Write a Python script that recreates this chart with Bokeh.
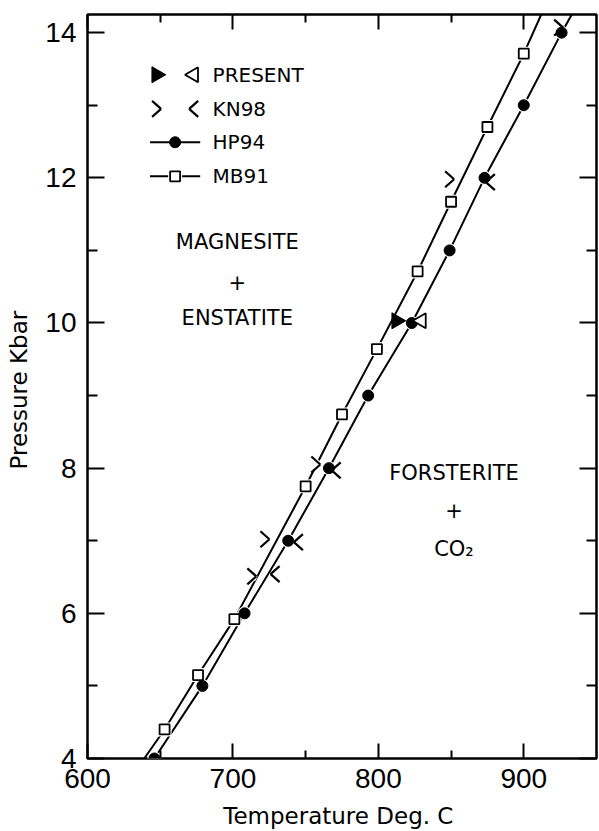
import math
from bokeh.plotting import figure
from bokeh.models import FixedTicker, LinearAxis, Range1d
from bokeh.core.properties import value
from bokeh.embed import file_html
from bokeh.resources import INLINE

# ---------------- data ----------------
x_ticks = [600, 700, 800, 900]
x_minor = [650, 750, 850]
y_ticks = [4, 6, 8, 10, 12, 14]
y_minor = [5, 7, 9, 11, 13]

# HP94 (filled circles) and its curve
hp94_T = [646, 679, 708, 738, 766, 793, 823, 849, 873, 900, 926]
hp94_P = [4, 5, 6, 7, 8, 9, 10, 11, 12, 13, 14]
hp94_line_T = [646, 679, 708, 738, 766, 793, 823, 849, 873, 900, 926, 933]
hp94_line_P = [4, 5, 6, 7, 8, 9, 10, 11, 12, 13, 14, 14.25]

# MB91 (open squares) and its curve
mb91_T = [653, 676, 701, 750, 775, 799, 827, 850, 875, 900]
mb91_P = [4.40, 5.15, 5.92, 7.75, 8.74, 9.64, 10.71, 11.67, 12.70, 13.71]
mb91_line_T = [639, 653, 676, 701, 750, 775, 799, 827, 850, 875, 900, 912]
mb91_line_P = [4.0, 4.40, 5.15, 5.92, 7.75, 8.74, 9.64, 10.71, 11.67, 12.70, 13.71, 14.25]

# KN98 brackets
kn98_gt_T = [713, 722, 757, 849, 924]
kn98_gt_P = [6.51, 7.02, 8.05, 11.98, 14.07]
kn98_lt_T = [729, 745, 771, 877]
kn98_lt_P = [6.54, 6.98, 7.97, 11.94]

# PRESENT study
present_fill_T = [812.5]
present_fill_P = [10.03]
present_open_T = [829.6]
present_open_P = [10.03]

legend_names = ["PRESENT", "KN98", "HP94", "MB91"]

# ---------------- layout / style ----------------
W, H = 599, 831
B_LEFT, B_RIGHT, B_TOP, B_BOTTOM = 87, 3, 14, 73
X0, X1 = 600, 950
Y0, Y1 = 4, 14.25
FW, FH = W - B_LEFT - B_RIGHT, H - B_TOP - B_BOTTOM
PX_X = FW / (X1 - X0)   # px per deg C
PX_Y = FH / (Y1 - Y0)   # px per kbar

FONT = "DejaVu Sans"
TICK_FONT = "Liberation Sans"

p = figure(width=W, height=H, x_range=Range1d(X0, X1), y_range=Range1d(Y0, Y1),
           output_backend="svg", toolbar_location=None,
           min_border_left=B_LEFT, min_border_right=B_RIGHT,
           min_border_top=B_TOP, min_border_bottom=B_BOTTOM)
p.grid.visible = False
p.outline_line_color = "black"
p.outline_line_width = 2.5
p.background_fill_color = "white"
p.border_fill_color = "white"


def style_axis(ax, major_in, minor_in):
    ax.axis_line_color = None
    ax.major_tick_in = major_in
    ax.major_tick_out = 0
    ax.minor_tick_in = minor_in
    ax.minor_tick_out = 0
    ax.major_tick_line_width = 2
    ax.minor_tick_line_width = 2
    ax.major_tick_line_color = "black"
    ax.minor_tick_line_color = "black"
    ax.major_label_text_font = TICK_FONT
    ax.major_label_text_font_size = "28px"
    ax.major_label_text_color = "black"
    ax.axis_label_text_font = FONT
    ax.axis_label_text_font_size = "23px"
    ax.axis_label_text_font_style = "normal"
    ax.axis_label_text_color = "black"


xa = p.xaxis[0]
xa.ticker = FixedTicker(ticks=x_ticks, minor_ticks=x_minor)
style_axis(xa, 15, 8)
xa.major_label_standoff = 10
xa.axis_label = "Temperature  Deg. C"
xa.axis_label_standoff = 12

ya = p.yaxis[0]
ya.ticker = FixedTicker(ticks=y_ticks, minor_ticks=y_minor)
style_axis(ya, 17, 10)
ya.major_label_standoff = 11
ya.axis_label = "Pressure  Kbar"
ya.axis_label_standoff = 10

top = LinearAxis(ticker=FixedTicker(ticks=x_ticks, minor_ticks=x_minor),
                 major_label_overrides={t: "" for t in x_ticks})
style_axis(top, 15, 8)
top.major_label_standoff = 0
top.major_label_text_font_size = "1px"
p.add_layout(top, "above")

right = LinearAxis(ticker=FixedTicker(ticks=y_ticks, minor_ticks=y_minor),
                   major_label_overrides={t: "" for t in y_ticks})
style_axis(right, 17, 10)
right.major_label_standoff = 0
right.major_label_text_font_size = "1px"
p.add_layout(right, "right")

LW = 2

# ---------------- curves ----------------
p.line(mb91_line_T, mb91_line_P, line_color="black", line_width=LW)
p.line(hp94_line_T, hp94_line_P, line_color="black", line_width=LW)

# white halos to break the lines around the symbols
p.scatter(mb91_T, mb91_P, marker="square", size=14, fill_color="white", line_color=None)
p.scatter(kn98_gt_T, kn98_gt_P, marker="circle", size=11, fill_color="white", line_color=None)
p.scatter(hp94_T, hp94_P, marker="circle", size=14, fill_color="white", line_color=None)

# symbols
p.scatter(mb91_T, mb91_P, marker="square", size=10, fill_color="white",
          line_color="black", line_width=1.8)
p.scatter(hp94_T, hp94_P, marker="circle", size=11, fill_color="black",
          line_color="black")
p.scatter(present_fill_T, present_fill_P, marker="triangle", angle=-math.pi / 2,
          size=16, fill_color="black", line_color="black")
p.scatter(present_open_T, present_open_P, marker="triangle", angle=math.pi / 2,
          size=15, fill_color="white", line_color="black", line_width=1.8)

# chevrons ">" and "<" (KN98) built as segments of a fixed screen size
CH_W, CH_H = 9.0, 8.0   # px: full width, half height
dx = CH_W / PX_X
dy = CH_H / PX_Y


def chevrons(ts, ps, direction):
    x0, y0, x1, y1 = [], [], [], []
    for t, q in zip(ts, ps):
        tip = t + direction * dx / 2
        back = t - direction * dx / 2
        x0 += [back, back]
        y0 += [q + dy, q - dy]
        x1 += [tip, tip]
        y1 += [q, q]
    p.segment(x0, y0, x1, y1, line_color="black", line_width=2.2)


chevrons(kn98_gt_T, kn98_gt_P, +1)
chevrons(kn98_lt_T, kn98_lt_P, -1)

# ---------------- legend (drawn by hand, as in the original) ----------------
LEG_M1, LEG_M2, LEG_TXT = 647.5, 673.0, 686.0
LEG_LINE = (643.0, 677.5)
LEG_P = [13.42, 12.95, 12.49, 12.02]

p.scatter([LEG_M1], [LEG_P[0]], marker="triangle", angle=-math.pi / 2, size=16,
          fill_color="black", line_color="black")
p.scatter([LEG_M2], [LEG_P[0]], marker="triangle", angle=math.pi / 2, size=15,
          fill_color="white", line_color="black", line_width=1.8)
chevrons([LEG_M1], [LEG_P[1]], +1)
chevrons([LEG_M2], [LEG_P[1]], -1)
p.line(list(LEG_LINE), [LEG_P[2]] * 2, line_color="black", line_width=LW)
p.scatter([(LEG_LINE[0] + LEG_LINE[1]) / 2], [LEG_P[2]], marker="circle", size=11,
          fill_color="black", line_color="black")
p.line(list(LEG_LINE), [LEG_P[3]] * 2, line_color="black", line_width=LW)
p.scatter([(LEG_LINE[0] + LEG_LINE[1]) / 2], [LEG_P[3]], marker="square", size=14,
          fill_color="white", line_color=None)
p.scatter([(LEG_LINE[0] + LEG_LINE[1]) / 2], [LEG_P[3]], marker="square", size=10,
          fill_color="white", line_color="black", line_width=1.8)
p.text([LEG_TXT] * 4, LEG_P, text=legend_names, text_font=value(FONT),
       text_font_size="20px", text_align="left", text_baseline="middle",
       text_color="black")

# ---------------- field labels ----------------
p.text([703, 703, 703], [11.12, 10.56, 10.07], text=["MAGNESITE", "+", "ENSTATITE"],
       text_font=value(FONT), text_font_size="21px", text_align="center",
       text_baseline="middle", text_color="black")
p.text([852, 852, 852], [7.93, 7.42, 6.89], text=["FORSTERITE", "+", "CO₂"],
       text_font=value(FONT), text_font_size="21px", text_align="center",
       text_baseline="middle", text_color="black")

open("out.html", "w").write(file_html(p, INLINE))
